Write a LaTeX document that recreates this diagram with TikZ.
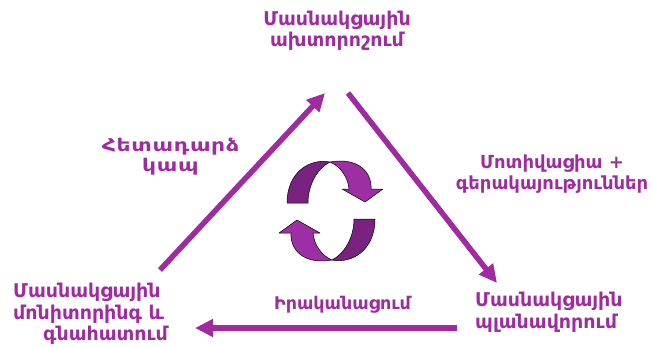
\documentclass[tikz,border=0pt]{standalone}
\usepackage{fontspec}
\setmainfont{DejaVu Sans}
\usetikzlibrary{arrows.meta}
\definecolor{pmain}{RGB}{160,42,160}
\definecolor{pdark}{RGB}{122,34,128}
\definecolor{plight}{RGB}{157,46,164}
\tikzset{
  lbl/.style={text=pmain, font=\bfseries\fontsize{19}{21.5}\selectfont, inner sep=0pt},
  conn/.style={draw=pmain, line width=5.5pt, -{Triangle[length=18pt,width=17pt]}},
  ribdark/.style={fill=pdark, draw=black, line width=0.5pt, line join=round},
  riblight/.style={fill=plight, draw=black, line width=0.5pt, line join=round}
}
\begin{document}
\begin{tikzpicture}[x=1pt,y=-1pt]
\useasboundingbox (0,0) rectangle (652,346);
% labels
\node[lbl, align=center] (diag) at (337,31) {Մասնակցային\\ախտորոշում};
\node[lbl, align=center, font=\bfseries\fontsize{17.5}{20}\selectfont\addfontfeatures{FakeStretch=1.25,LetterSpace=4}] (feed) at (170.5,156.5) {Հետադարձ\\կապ};
\node[lbl, align=center, font=\bfseries\fontsize{18}{21}\selectfont] (motiv) at (552,174) {Մոտիվացիա +\\գերակայություններ};
\node[lbl, align=left, anchor=west] (plan) at (475,312) {Մասնակցային\\պլանավորում};
\node[lbl, anchor=base, font=\bfseries\fontsize{17.5}{20}\selectfont] (impl) at (342.5,309) {Իրականացում};
\node[lbl, align=left, anchor=west] (mon) at (13,314) {Մասնակցային\\մոնիտորինգ և\\\hspace*{30pt}գնահատում};
% connector end points
\coordinate (lt) at (160,270);
\coordinate (lh) at (325,93);
\coordinate (rt) at (348,93);
\coordinate (rh) at (497,283);
\coordinate (bt) at (457,328);
\coordinate (bh) at (195,328);
\draw[conn] (lt) -- (lh);
\draw[conn] (rt) -- (rh);
\draw[conn] (bt) -- (bh);
% cycle icon
\foreach \r in {0,180}{
\begin{scope}[rotate around={\r:(331,211)}]
  \path[ribdark] (287,203) -- (308,203) .. controls (308,184) and (318,168) .. (330,162)
     .. controls (310,158) and (287,172) .. cycle;
  \path[riblight] (330,162) .. controls (358,157) and (372,172) .. (371,189)
     -- (383,189) -- (365,202) -- (342,189) -- (349,189)
     .. controls (348,177) and (340,166) .. cycle;
\end{scope}
}
\end{tikzpicture}
\end{document}
